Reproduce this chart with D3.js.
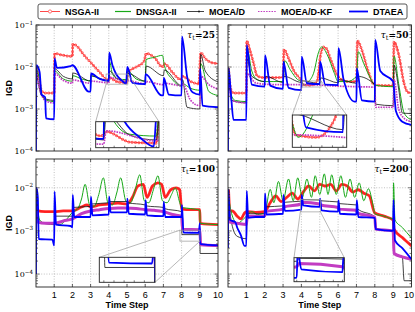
<!DOCTYPE html>
<html>
<head>
<meta charset="utf-8">
<script src="https://cdn.jsdelivr.net/npm/d3@7"></script>
<style>
  body { margin: 0; background: #fff; }
  svg { display: block; }
</style>
</head>
<body>
<div id="chart"></div>
<script>
// Algorithms in legend order, and the x tick labels.
const algorithms = ["NSGA-II", "DNSGA-II", "MOEA/D", "MOEA/D-KF", "DTAEA"];
const timeTicks = [1, 2, 3, 4, 5, 6, 7, 8, 9, 10];

// IGD curves, as [time step, IGD].
// tau_t = 25
const nsga25 = [[0.02,0.009],[0.15,0.006],[0.3,0.0027],[0.5,0.0024],[1,0.0024],[1.02,0.021],[1.5,0.019],[2,0.018],[2.02,0.035],[2.3,0.03],[2.6,0.02],[3,0.013],[3.5,0.0075],[3.95,0.005],[4.05,0.0055],[4.5,0.0044],[5,0.0043],[5.05,0.0075],[5.5,0.01],[5.95,0.014],[6.05,0.021],[6.5,0.017],[6.95,0.010],[7.05,0.012],[7.5,0.0075],[7.95,0.005],[8.05,0.006],[8.5,0.0045],[8.95,0.004],[9.05,0.022],[9.3,0.016],[9.6,0.013],[10,0.012]];
const dnsga25 = [[0.02,0.009],[0.2,0.005],[0.35,0.002],[0.6,0.0016],[1,0.0015],[1.02,0.008],[1.5,0.0052],[2,0.0046],[2.02,0.0062],[2.5,0.0052],[3,0.0047],[3.02,0.0062],[3.5,0.0052],[4,0.0047],[4.05,0.013],[4.2,0.0068],[4.5,0.0052],[5,0.005],[5.05,0.008],[5.5,0.0052],[6,0.0046],[6.05,0.015],[6.5,0.017],[6.95,0.019],[7.05,0.011],[7.5,0.005],[8,0.0035],[8.05,0.004],[8.5,0.0031],[9,0.0028],[9.05,0.012],[9.5,0.0026],[10,0.0021]];
const moead25 = [[0.02,0.008],[0.3,0.0021],[0.6,0.0017],[1,0.0016],[1.02,0.009],[1.5,0.006],[2,0.0052],[2.02,0.0072],[3,0.0046],[3.02,0.0062],[4,0.0046],[4.05,0.008],[4.5,0.0051],[5,0.0046],[5.05,0.007],[6,0.0046],[6.05,0.0105],[7,0.0062],[7.05,0.0085],[8,0.0036],[8.05,0.005],[8.3,0.0011],[9,0.001],[9.05,0.02],[9.3,0.008],[10,0.0044]];
const kf25 = [[0.02,0.008],[0.3,0.0022],[0.6,0.0015],[1,0.0014],[1.02,0.007],[1.5,0.0048],[2,0.0041],[2.02,0.0049],[3,0.0041],[3.02,0.0046],[4,0.0042],[4.05,0.0056],[5,0.0045],[5.05,0.0047],[6,0.004],[6.05,0.0045],[7,0.0038],[7.05,0.0041],[8,0.0036],[8.05,0.004],[8.5,0.0016],[9,0.0012],[9.05,0.006],[9.5,0.0038],[10,0.003]];
const dtaea25 = [[0,0.0001],[0.02,0.011],[0.2,0.0075],[0.3,0.0022],[0.5,0.0019],[0.55,0.0006],[1,0.00057],[1.02,0.016],[1.15,0.0095],[1.9,0.0105],[2,0.011],[2.9,0.0026],[3,0.0026],[3.02,0.007],[3.5,0.0052],[4,0.0047],[4.02,0.022],[4.2,0.011],[4.4,0.0068],[4.7,0.0048],[4.95,0.004],[5.02,0.010],[5.3,0.0042],[6,0.0039],[6.02,0.0068],[6.9,0.0021],[7,0.0021],[7.02,0.0055],[7.3,0.0022],[8,0.0021],[8.02,0.053],[8.3,0.006],[8.6,0.0025],[9,0.0022],[9.02,0.009],[9.15,0.0012],[10,0.0011]];

// tau_t = 50
const nsga50 = [[0.03,0.009],[0.15,0.003],[0.3,0.0024],[1,0.0024],[1.02,0.042],[1.2,0.025],[1.4,0.012],[1.6,0.006],[2,0.0056],[2.5,0.0056],[3,0.0057],[3.05,0.026],[3.3,0.016],[3.6,0.008],[4,0.0047],[4.1,0.0038],[4.5,0.0037],[4.85,0.0045],[5.05,0.02],[5.2,0.03],[5.35,0.028],[5.6,0.015],[6,0.006],[6.5,0.0045],[7,0.0045],[7.05,0.042],[7.3,0.025],[7.6,0.009],[8,0.0037],[9,0.0036],[9.05,0.040],[9.3,0.02],[9.6,0.004],[9.8,0.0025],[10,0.0024]];
const dnsga50 = [[0.03,0.006],[0.2,0.002],[0.4,0.0016],[1,0.0015],[1.02,0.030],[1.3,0.008],[1.6,0.005],[2,0.0045],[2.5,0.0045],[3,0.0045],[3.1,0.014],[3.4,0.0085],[3.8,0.005],[4,0.0045],[4.15,0.0037],[4.4,0.0045],[4.7,0.008],[4.9,0.02],[5.1,0.030],[5.4,0.02],[5.8,0.007],[6,0.0045],[6.5,0.0045],[7,0.006],[7.1,0.023],[7.4,0.012],[7.8,0.005],[8,0.0037],[9,0.0034],[9.05,0.018],[9.3,0.004],[9.6,0.0008],[10,0.00055]];
const moead50 = [[0.03,0.007],[0.2,0.0016],[1,0.0014],[1.02,0.016],[1.3,0.006],[2,0.0045],[2.05,0.006],[3,0.0043],[3.05,0.006],[4,0.0043],[4.05,0.0047],[5,0.004],[5.05,0.0055],[6,0.0042],[6.05,0.005],[7,0.0041],[7.05,0.006],[8,0.0038],[8.05,0.0013],[9,0.0012],[9.05,0.011],[9.3,0.003],[9.5,0.0008],[10,0.00078]];
const kf50 = [[0.03,0.007],[0.2,0.0016],[1,0.0014],[1.02,0.007],[1.5,0.0042],[2,0.0039],[3,0.0038],[4,0.0038],[5,0.0037],[6,0.0035],[7,0.0034],[8,0.0033],[8.05,0.0011],[9,0.0011],[9.05,0.005],[9.3,0.001],[9.6,0.0006],[10,0.0005]];
const dtaea50 = [[0,0.0001],[0.03,0.0095],[0.15,0.0026],[0.3,0.00055],[1,0.00055],[1.02,0.033],[1.3,0.0038],[2,0.0034],[2.02,0.019],[2.3,0.0036],[3,0.003],[3.02,0.0134],[3.3,0.0032],[4,0.0028],[4.02,0.0176],[4.3,0.0041],[5,0.0039],[5.02,0.0134],[5.3,0.0038],[6,0.0037],[6.02,0.028],[6.3,0.005],[6.9,0.0015],[7,0.0015],[7.02,0.0093],[7.3,0.0016],[8,0.0015],[8.02,0.044],[8.3,0.008],[9,0.0045],[9.15,0.0009],[9.5,0.0005],[10,0.00042]];

// tau_t = 100
const nsga100 = [[0,0.009],[0.03,0.003],[0.5,0.0028],[1,0.0028],[1.5,0.0029],[2,0.0029],[2.5,0.0036],[2.8,0.004],[3,0.0036],[3.5,0.004],[4,0.0042],[4.5,0.0044],[5,0.0042],[5.3,0.006],[5.6,0.011],[5.9,0.012],[6.1,0.006],[6.4,0.011],[6.7,0.013],[6.9,0.012],[7.1,0.006],[7.4,0.009],[7.7,0.01],[7.9,0.009],[8,0.0032],[8.5,0.0031],[9,0.0031],[9.02,0.0015],[10,0.0014]];
const dnsga100 = [[0.03,0.006],[0.2,0.0018],[0.5,0.0015],[1,0.0015],[1.3,0.0014],[1.7,0.0019],[2,0.0027],[2.3,0.0033],[2.5,0.0055],[2.7,0.012],[2.95,0.004],[3.2,0.0037],[3.45,0.007],[3.7,0.017],[3.95,0.0045],[4.2,0.004],[4.45,0.008],[4.65,0.017],[4.95,0.0048],[5.2,0.0045],[5.45,0.009],[5.7,0.02],[5.95,0.005],[6.2,0.0045],[6.45,0.009],[6.7,0.019],[6.95,0.005],[7.2,0.0045],[7.45,0.007],[7.65,0.01],[7.9,0.0045],[8,0.0035],[8.5,0.0033],[9,0.003],[9.02,0.0015],[10,0.0014]];
const moead100 = [[0.03,0.005],[0.2,0.0016],[1,0.0014],[1.05,0.0022],[2,0.0022],[2.05,0.0035],[3,0.0037],[3.05,0.0042],[4,0.0045],[4.05,0.0048],[5,0.0048],[5.05,0.0045],[6,0.004],[6.05,0.0038],[7,0.0035],[7.05,0.0033],[8,0.0028],[8.02,0.00082],[9,0.00082],[9.02,0.0003],[10,0.0003]];
const kf100 = [[0.03,0.004],[0.1,0.0016],[0.5,0.0015],[1,0.0015],[1.5,0.0017],[2,0.0019],[2.5,0.0025],[3,0.0029],[3.5,0.0031],[4,0.0033],[4.5,0.0034],[5,0.0034],[5.5,0.0033],[6,0.0031],[6.5,0.003],[7,0.0028],[7.5,0.0024],[8,0.0022],[8.05,0.0011],[9,0.00107],[9.05,0.00048],[10,0.00046]];
const dtaea100 = [[0,0.0001],[0.02,0.01],[0.1,0.006],[0.15,0.00065],[0.9,0.00063],[1,0.00046],[1.02,0.0081],[1.1,0.0014],[1.9,0.0013],[2,0.0012],[2.02,0.0068],[2.1,0.0021],[3,0.0021],[3.02,0.0062],[3.1,0.0023],[4,0.0024],[4.02,0.0062],[4.1,0.0027],[5,0.0027],[5.02,0.0056],[5.1,0.0025],[6,0.0024],[6.02,0.0052],[6.1,0.0023],[7,0.0022],[7.02,0.0047],[7.1,0.0021],[8,0.0021],[8.02,0.004],[8.1,0.00092],[8.95,0.0009],[9,0.0015],[9.02,0.0005],[10,0.00046]];

// tau_t = 200
const nsga200 = [[0.03,0.009],[0.1,0.003],[0.3,0.0028],[0.5,0.0022],[0.7,0.0019],[0.9,0.0026],[1,0.0028],[1.5,0.0027],[2,0.0028],[2.3,0.0045],[2.6,0.0065],[2.9,0.0048],[3.2,0.006],[3.5,0.0075],[3.8,0.0055],[4.1,0.008],[4.4,0.011],[4.7,0.0085],[5,0.012],[5.3,0.011],[5.6,0.012],[5.9,0.0085],[6.2,0.012],[6.5,0.011],[6.8,0.008],[7.1,0.009],[7.4,0.0075],[7.7,0.0065],[8,0.0026],[8.5,0.0022],[9,0.0018],[9.05,0.0011],[9.5,0.0007],[10,0.00045]];
const dnsga200 = [[0.03,0.006],[0.2,0.0025],[0.5,0.0015],[0.8,0.0018],[1,0.0022],[1.3,0.0028],[1.6,0.0024],[2,0.0026],[2.3,0.0092],[2.5,0.0045],[2.75,0.014],[3,0.005],[3.3,0.016],[3.55,0.005],[3.8,0.017],[4.05,0.006],[4.3,0.016],[4.55,0.006],[4.75,0.019],[5,0.007],[5.25,0.021],[5.45,0.007],[5.65,0.020],[5.9,0.007],[6.15,0.019],[6.4,0.006],[6.65,0.016],[6.9,0.006],[7.15,0.013],[7.4,0.005],[7.65,0.0095],[7.9,0.004],[8,0.0025],[8.5,0.0022],[9,0.0019],[9.02,0.013],[9.1,0.0018],[9.5,0.0012],[10,0.00068]];
const moead200 = [[0.03,0.005],[0.2,0.0015],[0.5,0.00075],[1,0.00066],[1.05,0.0025],[2,0.0025],[2.05,0.0036],[3,0.0038],[3.05,0.0046],[4,0.0049],[4.05,0.0053],[5,0.0052],[5.05,0.005],[6,0.0047],[6.05,0.0043],[7,0.004],[7.05,0.0033],[8,0.0021],[8.05,0.0011],[9,0.001],[9.05,0.0003],[9.5,0.00025],[9.6,0.00007],[10,0.00007]];
const kf200 = [[0.03,0.004],[0.1,0.0016],[0.5,0.0015],[1,0.0014],[1.05,0.0022],[2,0.0022],[2.05,0.0028],[3,0.0032],[3.05,0.0036],[4,0.0042],[4.05,0.0046],[5,0.0042],[5.05,0.004],[6,0.0035],[6.05,0.0032],[7,0.003],[7.05,0.0026],[8,0.0021],[8.05,0.0011],[9,0.001],[9.05,0.0003],[9.5,0.00025],[10,0.00022]];
const dtaea200 = [[0,0.0004],[0.02,0.009],[0.1,0.0018],[0.4,0.0016],[0.5,0.0012],[0.7,0.0008],[0.9,0.00045],[1,0.00045],[1.02,0.0085],[1.1,0.002],[1.5,0.0021],[2,0.0021],[2.02,0.0074],[2.1,0.0024],[3,0.0025],[3.02,0.0068],[3.1,0.0029],[4,0.0031],[4.02,0.0068],[4.1,0.0039],[5,0.0036],[5.02,0.0056],[5.1,0.003],[6,0.0028],[6.02,0.0052],[6.1,0.0025],[7,0.0024],[7.02,0.0052],[7.1,0.0021],[8,0.002],[8.05,0.0011],[9,0.001],[9.02,0.0052],[9.1,0.0006],[9.5,0.0004],[10,0.00022]];

// Line styles, one per algorithm.
const styles = [
  { color: "#ff1a1a", width: 0.8, rings: true },
  { color: "#17a817", width: 1 },
  { color: "#111111", width: 0.8 },
  { color: "#c23cc2", width: 1.7, dash: "1.6 1", band: 3 },
  { color: "#0000ff", width: 1.8 }
];

const W = 415, H = 312;
const topLog = [1e-4, 1e-1];
const botLog = [Math.pow(10, -4.3), Math.pow(10, -1.333)];

const panels = [
  { tau: "25", series: [nsga25, dnsga25, moead25, kf25, dtaea25],
    box: [36, 25, 218, 151], dom: topLog, yTicks: [1e-4, 1e-3, 1e-2, 1e-1], showY: true, showX: false, dense: false,
    inset: { t: [3.85, 5.05], v: [0.0039, 0.0068], box: [95.7, 121.7, 159, 147.7], links: [["bl", "tl"], ["tr", "tr"]] } },
  { tau: "50", series: [nsga50, dnsga50, moead50, kf50, dtaea50],
    box: [228, 25, 411.5, 151], dom: topLog, yTicks: [1e-4, 1e-3, 1e-2, 1e-1], showY: false, showX: false, dense: false,
    inset: { t: [4.04, 5.07], v: [0.00334, 0.00465], box: [292.3, 115, 346.7, 147.3], links: [["bl", "tl"], ["tr", "tr"]] } },
  { tau: "100", series: [nsga100, dnsga100, moead100, kf100, dtaea100],
    box: [36, 159, 218, 287], dom: botLog, yTicks: [1e-4, 1e-3, 1e-2], showY: true, showX: true, dense: true,
    inset: { t: [7.91, 9.01], v: [0.00058, 0.00104], box: [99.3, 257.3, 155, 282.3], links: [["tl", "tl"], ["br", "br"]] } },
  { tau: "200", series: [nsga200, dnsga200, moead200, kf200, dtaea200],
    box: [228, 159, 411.5, 287], dom: botLog, yTicks: [1e-4, 1e-3, 1e-2], showY: false, showX: true, dense: true,
    inset: { t: [3.94, 5.04], v: [0.00276, 0.0054], box: [294, 257.7, 344.3, 281.7], links: [["bl", "tl"], ["br", "tr"]] } }
];

const svg = d3.select("#chart").append("svg").attr("width", W).attr("height", H);
const defs = svg.append("defs");

// Draw the five curves of one panel into a layer.
function drawSeries(layer, list, x, y, dense) {
  const line = d3.line().x(d => x(d[0])).y(d => y(d[1])).curve(d3.curveMonotoneX);
  list.forEach((data, i) => {
    const s = styles[i];
    if (s.rings) {
      if (dense) {
        layer.append("path").attr("d", line(data)).attr("fill", "none")
          .attr("stroke", "#ff2a2a").attr("stroke-width", 2.8);
      } else {
        layer.append("path").attr("d", line(data)).attr("fill", "none")
          .attr("stroke", "#ff5a5a").attr("stroke-width", 3)
          .attr("stroke-dasharray", "0 3.4").attr("stroke-linecap", "round");
        layer.append("path").attr("d", line(data)).attr("fill", "none")
          .attr("stroke", "#fff").attr("stroke-width", 1.4)
          .attr("stroke-dasharray", "0 3.4").attr("stroke-linecap", "round");
      }
    }
    const p = layer.append("path").attr("d", line(data)).attr("fill", "none")
      .attr("stroke", s.color)
      .attr("stroke-width", dense && s.band ? s.band : s.width)
      .attr("stroke-linejoin", "round");
    if (s.dash && !dense) p.attr("stroke-dasharray", s.dash);
  });
}

panels.forEach((p, pi) => {
  const [x0, y0, x1, y1] = p.box;
  const x = d3.scaleLinear().domain([0, 10]).range([x0, x1]);
  const y = d3.scaleLog().domain(p.dom).range([y1, y0]);
  const g = svg.append("g");

  defs.append("clipPath").attr("id", "clip" + pi).append("rect")
    .attr("x", x0).attr("y", y0).attr("width", x1 - x0).attr("height", y1 - y0);

  // Dotted grid
  g.selectAll(".gx").data(d3.range(1, 10)).enter().append("line")
    .attr("x1", d => x(d)).attr("x2", d => x(d)).attr("y1", y0).attr("y2", y1)
    .attr("stroke", "#999").attr("stroke-width", 0.6).attr("stroke-dasharray", "1 1.6");
  const decades = [1e-4, 1e-3, 1e-2, 1e-1].filter(v => y(v) > y0 + 1 && y(v) < y1 - 1);
  g.selectAll(".gy").data(decades).enter().append("line")
    .attr("x1", x0).attr("x2", x1).attr("y1", d => y(d)).attr("y2", d => y(d))
    .attr("stroke", "#999").attr("stroke-width", 0.6).attr("stroke-dasharray", "1 1.6");

  drawSeries(g.append("g").attr("clip-path", `url(#clip${pi})`), p.series, x, y, p.dense);

  // Frame
  g.append("rect").attr("x", x0).attr("y", y0).attr("width", x1 - x0).attr("height", y1 - y0)
    .attr("fill", "none").attr("stroke", "#222").attr("stroke-width", 0.9);

  // Inward ticks on x (top and bottom)
  d3.range(1, 10).forEach(t => {
    g.append("line").attr("x1", x(t)).attr("x2", x(t)).attr("y1", y1).attr("y2", y1 - 3).attr("stroke", "#222").attr("stroke-width", 0.7);
    g.append("line").attr("x1", x(t)).attr("x2", x(t)).attr("y1", y0).attr("y2", y0 + 3).attr("stroke", "#222").attr("stroke-width", 0.7);
  });
  // Inward log ticks on y (left and right)
  y.ticks().filter(v => y(v) >= y0 - 0.5 && y(v) <= y1 + 0.5).forEach(v => {
    const major = Math.abs(Math.log10(v) - Math.round(Math.log10(v))) < 1e-6;
    const len = major ? 3.5 : 2;
    g.append("line").attr("x1", x0).attr("x2", x0 + len).attr("y1", y(v)).attr("y2", y(v)).attr("stroke", "#222").attr("stroke-width", 0.6);
    g.append("line").attr("x1", x1).attr("x2", x1 - len).attr("y1", y(v)).attr("y2", y(v)).attr("stroke", "#222").attr("stroke-width", 0.6);
  });

  // Y tick labels
  if (p.showY) {
    p.yTicks.forEach(v => {
      const t = g.append("text").attr("x", x0 - 3).attr("y", y(v) + 3)
        .attr("text-anchor", "end").attr("font-family", "DejaVu Serif, serif").attr("font-size", 8);
      t.append("tspan").text("10");
      t.append("tspan").attr("dy", -3.5).attr("font-size", 5.6).text("\u2212" + Math.round(-Math.log10(v)));
    });
    g.append("text").attr("transform", `translate(12,${(y0 + y1) / 2}) rotate(-90)`)
      .attr("text-anchor", "middle").attr("font-family", "Liberation Sans, Arial, sans-serif")
      .attr("font-weight", "bold").attr("font-size", 9).text("IGD");
  }

  // X tick labels and title
  if (p.showX) {
    g.selectAll(".xl").data(timeTicks).enter().append("text")
      .attr("x", d => Math.min(x(d), W - 6)).attr("y", y1 + 11).attr("text-anchor", "middle")
      .attr("font-family", "Liberation Sans, Arial, sans-serif").attr("font-size", 9).text(d => d);
    g.append("text").attr("x", (x0 + x1) / 2).attr("y", y1 + 20.5).attr("text-anchor", "middle")
      .attr("font-family", "Liberation Sans, Arial, sans-serif").attr("font-weight", "bold").attr("font-size", 9).text("Time Step");
  }

  // tau_t label
  const tl = g.append("text").attr("x", x1 - 3).attr("y", y0 + 13).attr("text-anchor", "end")
    .attr("font-family", "DejaVu Serif, serif").attr("font-size", 9);
  tl.append("tspan").attr("font-style", "italic").text("\u03c4");
  tl.append("tspan").attr("dy", 2).attr("font-size", 6.5).text("t");
  tl.append("tspan").attr("dy", -2).attr("font-weight", "bold").text("=" + p.tau);

  // Zoomed region marker and inset
  const ins = p.inset;
  const rx0 = x(ins.t[0]), rx1 = x(ins.t[1]), ry0 = y(ins.v[1]), ry1 = y(ins.v[0]);
  const [bx0, by0, bx1, by1] = ins.box;
  const corner = (c, a) => [c[1] === "l" ? a[0] : a[2], c[0] === "t" ? a[1] : a[3]];
  g.append("rect").attr("x", rx0).attr("y", ry0).attr("width", rx1 - rx0).attr("height", ry1 - ry0)
    .attr("fill", "none").attr("stroke", "#9a9a9a").attr("stroke-width", 0.7);
  ins.links.forEach(([a, b]) => {
    const pa = corner(a, [rx0, ry0, rx1, ry1]);
    const pb = corner(b, [bx0, by0, bx1, by1]);
    g.append("line").attr("x1", pa[0]).attr("y1", pa[1]).attr("x2", pb[0]).attr("y2", pb[1])
      .attr("stroke", "#9a9a9a").attr("stroke-width", 0.7);
  });
  const ix = d3.scaleLinear().domain(ins.t).range([bx0, bx1]);
  const iy = d3.scaleLog().domain(ins.v).range([by1, by0]);
  defs.append("clipPath").attr("id", "iclip" + pi).append("rect")
    .attr("x", bx0).attr("y", by0).attr("width", bx1 - bx0).attr("height", by1 - by0);
  g.append("rect").attr("x", bx0).attr("y", by0).attr("width", bx1 - bx0).attr("height", by1 - by0).attr("fill", "#fff");
  drawSeries(g.append("g").attr("clip-path", `url(#iclip${pi})`), p.series, ix, iy, p.dense);
  d3.range(Math.ceil(ins.t[0] * 5) / 5, ins.t[1], 0.2).forEach(t => {
    g.append("line").attr("x1", ix(t)).attr("x2", ix(t)).attr("y1", by1).attr("y2", by1 - 2).attr("stroke", "#222").attr("stroke-width", 0.6);
  });
  g.append("rect").attr("x", bx0).attr("y", by0).attr("width", bx1 - bx0).attr("height", by1 - by0)
    .attr("fill", "none").attr("stroke", "#222").attr("stroke-width", 0.9);
});

// Legend
const lg = svg.append("g");
lg.append("rect").attr("x", 38).attr("y", 4).attr("width", 369).attr("height", 15).attr("rx", 2)
  .attr("fill", "#fff").attr("stroke", "#444").attr("stroke-width", 0.9);
const legendX = [40, 115, 187, 258, 349];
const legendLen = [20, 16, 17, 18, 19];
algorithms.forEach((name, i) => {
  const s = styles[i];
  const lx = legendX[i], ly = 11.5;
  const ln = lg.append("line").attr("x1", lx).attr("x2", lx + legendLen[i]).attr("y1", ly).attr("y2", ly)
    .attr("stroke", s.color).attr("stroke-width", i === 3 ? 1.2 : (i === 1 ? 1.2 : s.width));
  if (s.dash) ln.attr("stroke-dasharray", "1.5 1.2");
  if (s.rings) lg.append("circle").attr("cx", lx + 10).attr("cy", ly).attr("r", 1.6)
    .attr("fill", "#fff").attr("stroke", "#ff5050").attr("stroke-width", 0.8);
  if (i === 2) lg.append("circle").attr("cx", lx + 12).attr("cy", ly).attr("r", 0.9).attr("fill", "#111");
  lg.append("text").attr("x", lx + legendLen[i] + 5).attr("y", ly + 3.2)
    .attr("font-family", "Liberation Sans, Arial, sans-serif").attr("font-weight", "bold").attr("font-size", 9)
    .text(name);
});
</script>
</body>
</html>
